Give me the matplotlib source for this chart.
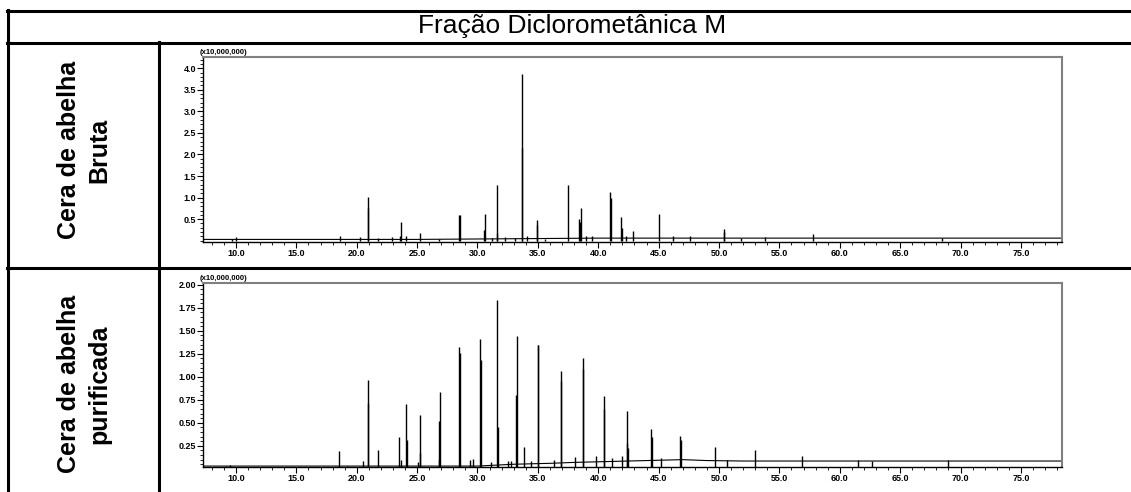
import numpy as np
import matplotlib
matplotlib.use('Agg')
import matplotlib.pyplot as plt
from matplotlib.lines import Line2D
from matplotlib.ticker import MultipleLocator, FormatStrFormatter

plt.rcParams['font.family'] = ['Liberation Sans', 'DejaVu Sans']

title = 'Fração Diclorometânica M'
row_labels = ['Cera de abelha\nBruta', 'Cera de abelha\npurificada']
scale_label = '(x10,000,000)'

# Bruta: retention time (min) and peak height (x10,000,000)
bruta_rt = [9.7, 10.0, 18.6, 20.3, 20.9, 20.95, 21.8, 22.9, 23.6, 23.7, 24.1, 25.2,
            26.8, 28.5, 28.55, 30.5, 30.6, 31.2, 31.6, 31.65, 32.3, 33.1, 33.65,
            33.7, 34.1, 34.9, 34.95, 35.6, 37.5, 38.4, 38.5, 38.6, 39.0, 39.5,
            41.0, 41.05, 41.9, 41.95, 42.3, 42.9, 45.0, 46.2, 47.6, 50.4, 50.45,
            51.8, 53.8, 57.8, 68.5]
bruta_h = [0.05, 0.08, 0.1, 0.08, 1.02, 0.76, 0.06, 0.08, 0.12, 0.43, 0.1, 0.18,
           0.04, 0.6, 0.6, 0.25, 0.63, 0.06, 1.3, 0.18, 0.08, 0.06, 2.15,
           3.86, 0.1, 0.48, 0.36, 0.05, 1.3, 0.5, 0.43, 0.76, 0.1, 0.1,
           1.13, 1.0, 0.56, 0.3, 0.12, 0.22, 0.62, 0.1, 0.1, 0.28, 0.2,
           0.07, 0.08, 0.16, 0.06]
bruta_base_rt = [7.3, 15.0, 25.0, 30.0, 35.0, 40.0, 45.0, 50.0, 60.0, 78.4]
bruta_base = [0.03, 0.03, 0.03, 0.04, 0.05, 0.06, 0.06, 0.06, 0.06, 0.06]

# purificada
pur_rt = [9.2, 9.5, 18.5, 19.2, 20.5, 20.9, 20.95, 21.8, 23.5, 23.7, 24.1, 24.15,
          25.1, 25.2, 25.25, 26.8, 26.85, 26.9, 28.5, 28.55, 29.4, 29.6, 30.2,
          30.25, 31.1, 31.65, 31.7, 32.5, 32.8, 33.2, 33.3, 33.85, 34.4, 35.0,
          35.05, 36.3, 36.9, 36.95, 38.1, 38.7, 38.75, 39.8, 40.45, 40.5, 41.1,
          42.0, 42.35, 42.4, 42.45, 44.4, 44.45, 45.2, 46.8, 46.85, 49.7, 50.7,
          53.0, 56.9, 61.5, 62.7, 69.0]
pur_h = [0.03, 0.04, 0.19, 0.03, 0.09, 0.97, 0.72, 0.2, 0.35, 0.1, 0.7, 0.31,
         0.07, 0.58, 0.17, 0.11, 0.52, 0.83, 1.32, 1.26, 0.1, 0.11, 1.41,
         1.18, 0.07, 1.84, 0.45, 0.08, 0.09, 0.8, 1.44, 0.24, 0.08, 1.35,
         1.35, 0.1, 0.96, 1.06, 0.13, 1.08, 1.2, 0.14, 0.65, 0.79, 0.12,
         0.14, 0.28, 0.63, 0.23, 0.43, 0.35, 0.12, 0.36, 0.31, 0.24, 0.1,
         0.2, 0.14, 0.1, 0.09, 0.1]
pur_base_rt = [7.3, 20.0, 28.0, 30.0, 33.0, 36.0, 38.0, 41.0, 44.0, 47.0, 49.0,
               52.0, 55.0, 60.0, 68.0, 70.0, 78.4]
pur_base = [0.03, 0.03, 0.03, 0.03, 0.05, 0.06, 0.07, 0.08, 0.09, 0.1, 0.09,
            0.085, 0.085, 0.085, 0.085, 0.085, 0.085]

fig = plt.figure(figsize=(11.31, 4.92), dpi=100)
W, H = 1131.0, 492.0


def px_rect(l, t, r, b):
    return [l / W, 1 - b / H, (r - l) / W, (b - t) / H]


def hline(y, x0, x1):
    fig.add_artist(Line2D([x0 / W, x1 / W], [1 - y / H, 1 - y / H], color='black', lw=2.2))


def vline(x, y0, y1):
    fig.add_artist(Line2D([x / W, x / W], [1 - y0 / H, 1 - y1 / H], color='black', lw=2.2))


# table grid
hline(10.5, 6.5, 1131)
hline(42.5, 6.5, 1131)
hline(268, 6.5, 1131)
vline(7.5, 9.5, 492)
vline(158.5, 42, 492)

fig.text(572 / W, 1 - 26 / H, title, ha='center', va='center', fontsize=19)
fig.text(84 / W, 1 - 150 / H, row_labels[0], ha='center', va='center', rotation=90,
         fontsize=18, fontweight='bold', linespacing=1.35)
fig.text(84 / W, 1 - 384 / H, row_labels[1], ha='center', va='center', rotation=90,
         fontsize=18, fontweight='bold', linespacing=1.35)


def chrom(ax, rt, h, base_rt, base, ylim, major, minor, fmt):
    ax.plot(base_rt, base, color='black', lw=0.8)
    ax.vlines(rt, 0, h, color='black', lw=1.0)
    ax.set_xlim(7.27, 78.4)
    ax.set_ylim(*ylim)
    ax.xaxis.set_minor_locator(MultipleLocator(1))
    ax.xaxis.set_major_formatter(FormatStrFormatter('%.1f'))
    ax.yaxis.set_minor_locator(MultipleLocator(minor))
    ax.yaxis.set_major_formatter(FormatStrFormatter(fmt))
    ax.set_xticks(np.arange(10, 80, 5))
    ax.set_yticks(np.arange(major, ylim[1] + 1e-9, major))
    ax.tick_params(which='major', length=4, width=0.8, labelsize=6.5, pad=1)
    ax.tick_params(which='minor', length=2, width=0.6)
    for lab in ax.get_xticklabels() + ax.get_yticklabels():
        lab.set_fontweight('bold')
    for s in ['top', 'right']:
        ax.spines[s].set_color('#808080')
        ax.spines[s].set_linewidth(1.5)
    ax.spines['left'].set_linewidth(1.0)
    ax.spines['bottom'].set_linewidth(1.0)
    ax.text(-0.004, 1.005, scale_label, transform=ax.transAxes, fontsize=5.5,
            fontweight='bold', va='bottom', ha='left')


ax1 = fig.add_axes(px_rect(203, 57, 1062, 242))
chrom(ax1, bruta_rt, bruta_h, bruta_base_rt, bruta_base, (-0.03, 4.26), 0.5, 0.1, '%.1f')

ax2 = fig.add_axes(px_rect(203, 283, 1062, 467))
chrom(ax2, pur_rt, pur_h, pur_base_rt, pur_base, (0.02, 2.02), 0.25, 0.05, '%.2f')

fig.savefig('out.png', dpi=100)
